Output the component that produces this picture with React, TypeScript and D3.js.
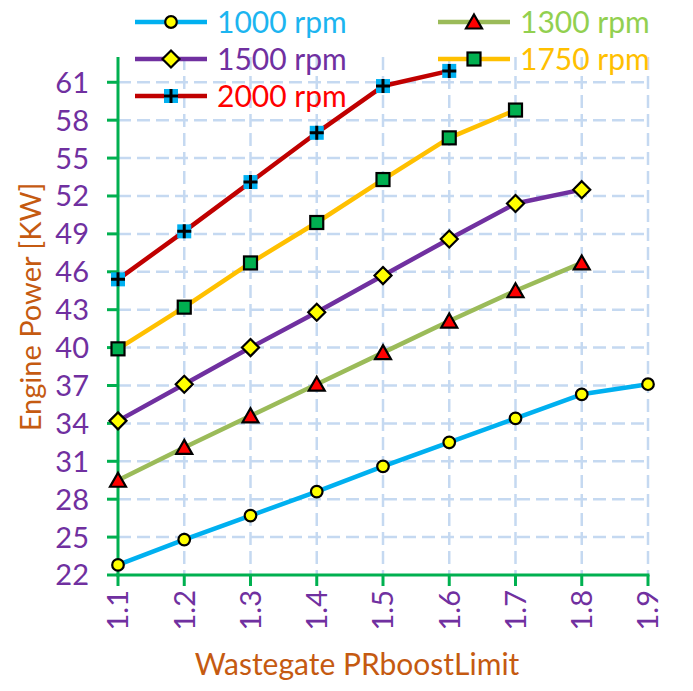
import { useEffect, useRef } from 'react';
import * as d3 from 'd3';

// Wastegate PRboostLimit values (x categories)
const xValues = [1.1, 1.2, 1.3, 1.4, 1.5, 1.6, 1.7, 1.8, 1.9];
const xTickLabels = ['1.1', '1.2', '1.3', '1.4', '1.5', '1.6', '1.7', '1.8', '1.9'];
const yTicks = [22, 25, 28, 31, 34, 37, 40, 43, 46, 49, 52, 55, 58, 61];

// Engine power [KW] per engine speed
const rpm1000 = [22.8, 24.8, 26.7, 28.6, 30.6, 32.5, 34.4, 36.3, 37.1];
const rpm1300 = [29.5, 32.1, 34.6, 37.1, 39.6, 42.1, 44.5, 46.7];
const rpm1500 = [34.2, 37.1, 40.0, 42.8, 45.7, 48.6, 51.4, 52.5];
const rpm1750 = [39.9, 43.2, 46.7, 49.9, 53.3, 56.6, 58.8];
const rpm2000 = [45.4, 49.2, 53.1, 57.0, 60.7, 61.9];

const seriesNames = ['1000 rpm', '1300 rpm', '1500 rpm', '1750 rpm', '2000 rpm'];

type Marker = 'circle' | 'triangle' | 'diamond' | 'square' | 'plus';

const series: { name: string; values: number[]; line: string; text: string; marker: Marker }[] = [
  { name: seriesNames[0], values: rpm1000, line: '#00b0f0', text: '#1cb5f0', marker: 'circle' },
  { name: seriesNames[1], values: rpm1300, line: '#9bbb59', text: '#92d050', marker: 'triangle' },
  { name: seriesNames[2], values: rpm1500, line: '#7030a0', text: '#7030a0', marker: 'diamond' },
  { name: seriesNames[3], values: rpm1750, line: '#ffc000', text: '#ffc000', marker: 'square' },
  { name: seriesNames[4], values: rpm2000, line: '#c00000', text: '#ff0000', marker: 'plus' }
];

const FONT = "Lato, 'Open Sans', sans-serif";

const drawMarker = (
  g: d3.Selection<SVGGElement, unknown, null, undefined>,
  type: Marker,
  cx: number,
  cy: number
) => {
  const m = g.append('g').attr('transform', `translate(${cx}, ${cy})`);
  if (type === 'circle') {
    m.append('circle').attr('r', 5.8).attr('fill', '#ffff00').attr('stroke', '#000').attr('stroke-width', 2.2);
  } else if (type === 'triangle') {
    m.append('path')
      .attr('d', 'M0,-7.5L8,6.5L-8,6.5Z')
      .attr('fill', '#ff0000')
      .attr('stroke', '#000')
      .attr('stroke-width', 2.2);
  } else if (type === 'diamond') {
    m.append('path')
      .attr('d', 'M0,-8.5L8.5,0L0,8.5L-8.5,0Z')
      .attr('fill', '#ffff00')
      .attr('stroke', '#000')
      .attr('stroke-width', 2.2);
  } else if (type === 'square') {
    m.append('rect')
      .attr('x', -6.5)
      .attr('y', -6.5)
      .attr('width', 13)
      .attr('height', 13)
      .attr('fill', '#00b050')
      .attr('stroke', '#000')
      .attr('stroke-width', 2.2);
  } else {
    m.append('rect').attr('x', -7).attr('y', -7).attr('width', 14).attr('height', 14).attr('fill', '#00b0f0');
    m.append('path').attr('d', 'M-7,0H7M0,-7V7').attr('stroke', '#000').attr('stroke-width', 3);
  }
};

const Chart = () => {
  const ref = useRef<SVGSVGElement | null>(null);

  useEffect(() => {
    if (!ref.current) return;
    const svg = d3.select(ref.current);
    svg.selectAll('*').remove();

    const x = d3.scaleLinear().domain([1.1, 1.9]).range([118, 648]);
    const y = d3.scaleLinear().domain([22, 63]).range([575, 57]);

    const gridColor = '#c5d9f1';
    const axisColor = '#00b050';

    // Grid lines
    const grid = svg.append('g');
    grid
      .selectAll('.hgrid')
      .data(yTicks.slice(1))
      .enter()
      .append('line')
      .attr('x1', x(1.1))
      .attr('x2', x(1.9))
      .attr('y1', (d) => y(d))
      .attr('y2', (d) => y(d))
      .attr('stroke', gridColor)
      .attr('stroke-width', 2.5)
      .attr('stroke-dasharray', '13,6');
    grid
      .selectAll('.vgrid')
      .data(xValues.slice(1))
      .enter()
      .append('line')
      .attr('x1', (d) => x(d))
      .attr('x2', (d) => x(d))
      .attr('y1', y(63))
      .attr('y2', y(22))
      .attr('stroke', gridColor)
      .attr('stroke-width', 2.5)
      .attr('stroke-dasharray', '13,6');

    // Axes
    const axes = svg.append('g');
    axes
      .append('line')
      .attr('x1', x(1.1))
      .attr('x2', x(1.1))
      .attr('y1', y(63))
      .attr('y2', y(22) + 1.5)
      .attr('stroke', axisColor)
      .attr('stroke-width', 3);
    axes
      .append('line')
      .attr('x1', x(1.1) - 1.5)
      .attr('x2', x(1.9) + 1.5)
      .attr('y1', y(22))
      .attr('y2', y(22))
      .attr('stroke', axisColor)
      .attr('stroke-width', 3);

    axes
      .selectAll('.ytick')
      .data(yTicks)
      .enter()
      .append('line')
      .attr('x1', x(1.1) - 11)
      .attr('x2', x(1.1))
      .attr('y1', (d) => y(d))
      .attr('y2', (d) => y(d))
      .attr('stroke', axisColor)
      .attr('stroke-width', 3);

    axes
      .selectAll('.xtick')
      .data(xValues)
      .enter()
      .append('line')
      .attr('x1', (d) => x(d))
      .attr('x2', (d) => x(d))
      .attr('y1', y(22))
      .attr('y2', y(22) + 11)
      .attr('stroke', axisColor)
      .attr('stroke-width', 3);

    axes
      .selectAll('.ylabel')
      .data(yTicks)
      .enter()
      .append('text')
      .attr('x', 89)
      .attr('y', (d) => y(d))
      .attr('dy', '0.36em')
      .attr('text-anchor', 'end')
      .style('font-family', FONT)
      .style('font-size', '29px')
      .style('fill', '#7030a0')
      .text((d) => String(d));

    axes
      .selectAll('.xlabel')
      .data(xValues)
      .enter()
      .append('text')
      .attr('transform', (d) => `translate(${x(d)}, 590) rotate(-90)`)
      .attr('dy', '0.36em')
      .attr('text-anchor', 'end')
      .style('font-family', FONT)
      .style('font-size', '29px')
      .style('fill', '#7030a0')
      .text((_, i) => xTickLabels[i]);

    // Axis titles
    svg
      .append('text')
      .attr('transform', 'translate(31, 307) rotate(-90)')
      .attr('dy', '0.36em')
      .attr('text-anchor', 'middle')
      .style('font-family', FONT)
      .style('font-size', '29px')
      .style('fill', '#c55a11')
      .text('Engine Power [KW]');

    svg
      .append('text')
      .attr('x', 357)
      .attr('y', 675)
      .attr('text-anchor', 'middle')
      .style('font-family', FONT)
      .style('font-size', '30px')
      .style('fill', '#c55a11')
      .text('Wastegate PRboostLimit');

    // Series
    const line = d3
      .line<number>()
      .x((_, i) => x(xValues[i]))
      .y((d) => y(d));

    const plot = svg.append('g');
    series.forEach((s) => {
      plot
        .append('path')
        .datum(s.values)
        .attr('fill', 'none')
        .attr('stroke', s.line)
        .attr('stroke-width', 4.5)
        .attr('stroke-linejoin', 'round')
        .attr('d', line);
    });
    series.forEach((s) => {
      s.values.forEach((v, i) => drawMarker(plot, s.marker, x(xValues[i]), y(v)));
    });

    // Legend (transparent, on top of the plot)
    const legendPos = [
      [135, 22],
      [438, 22],
      [135, 59],
      [438, 59],
      [135, 96]
    ];
    const legend = svg.append('g');
    series.forEach((s, i) => {
      const [lx, ly] = legendPos[i];
      const item = legend.append('g').attr('transform', `translate(${lx}, ${ly})`);
      item
        .append('line')
        .attr('x1', 0)
        .attr('x2', 72)
        .attr('y1', 0)
        .attr('y2', 0)
        .attr('stroke', s.line)
        .attr('stroke-width', 4.5);
      drawMarker(item, s.marker, 36, 0);
      item
        .append('text')
        .attr('x', 82)
        .attr('y', 0)
        .attr('dy', '0.36em')
        .style('font-family', FONT)
        .style('font-size', '30px')
        .style('fill', s.text)
        .text(s.name);
    });
  }, []);

  return (
    <svg
      ref={ref}
      width={693}
      height={691}
      style={{ position: 'absolute', left: 0, top: 0, background: '#fff' }}
    />
  );
};

export default function App() {
  return <Chart />;
}
